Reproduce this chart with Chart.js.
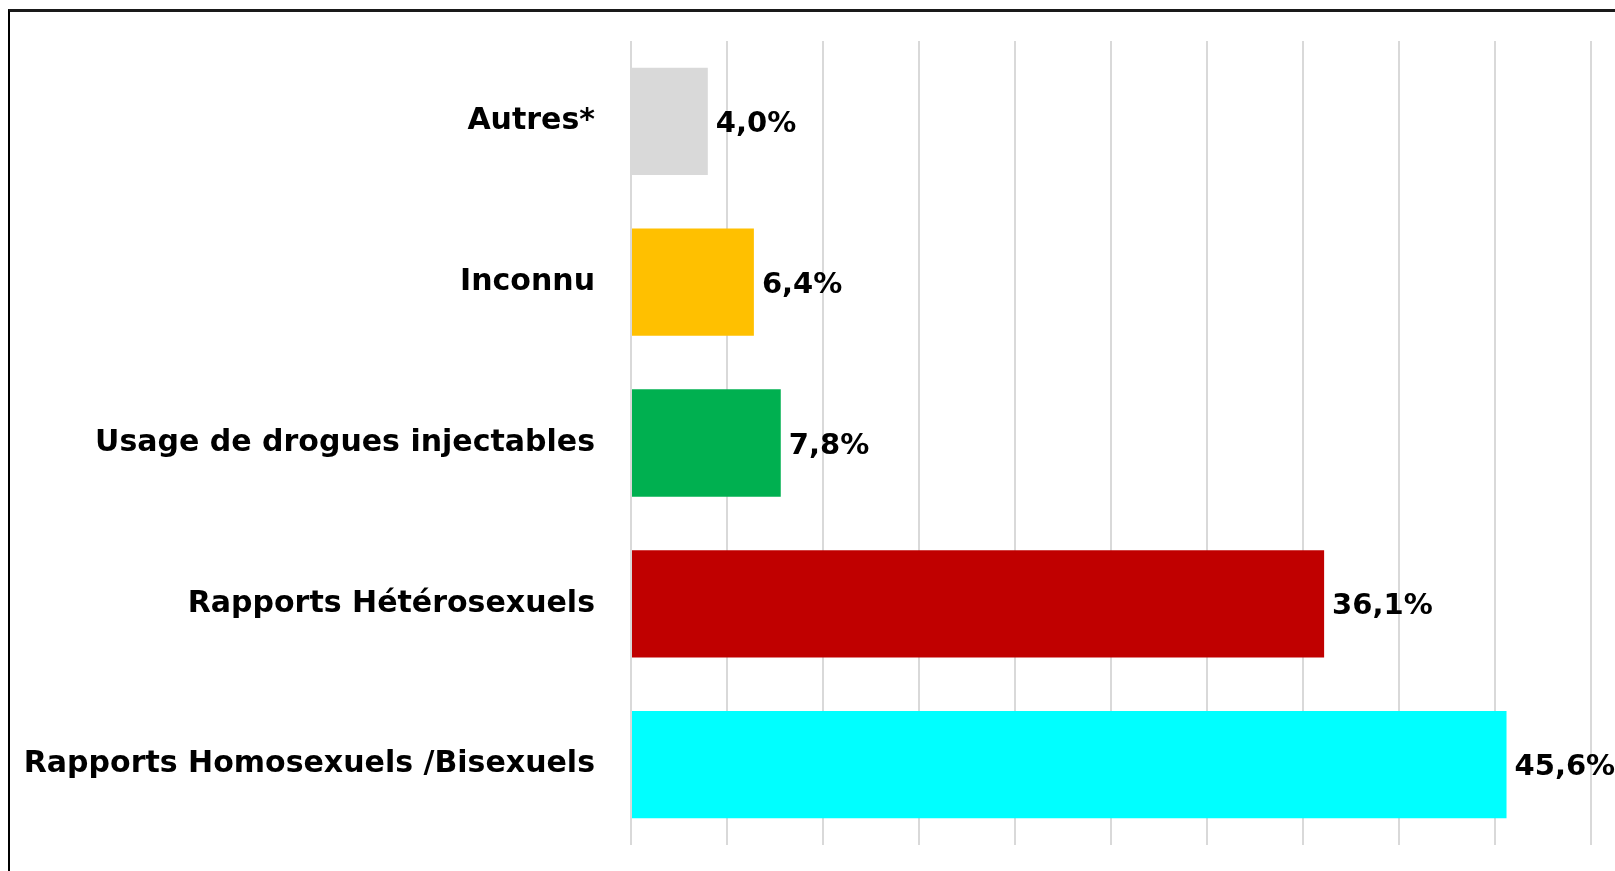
<!DOCTYPE html>
<html>
<head>
<meta charset="utf-8">
<script src="https://cdn.jsdelivr.net/npm/chart.js@4/dist/chart.umd.min.js"></script>
<style>
  html, body { margin: 0; padding: 0; background: #fff; }
  #wrap { position: relative; width: 1615px; height: 871px; overflow: hidden; }
  #frame { position: absolute; left: 8px; top: 9px; width: 1700px; height: 1000px;
           border-left: 2px solid #000; border-top: 3px solid #1a1a1a; }
  canvas { position: absolute; left: 0; top: 0; }
</style>
</head>
<body>
<div id="wrap">
  <div id="frame"></div>
  <canvas id="chart" width="1615" height="871"></canvas>
</div>
<script>
// Données
const categories = ['Autres*', 'Inconnu', 'Usage de drogues injectables', 'Rapports Hétérosexuels', 'Rapports Homosexuels /Bisexuels'];
const values = [4.0, 6.4, 7.8, 36.1, 45.6];
const barColors = ['#D9D9D9', '#FFC000', '#00B050', '#C00000', '#00FFFF'];
const xTicks = [0, 5, 10, 15, 20, 25, 30, 35, 40, 45, 50];

const fontFamily = "'DejaVu Sans', 'Noto Sans', sans-serif";

// étiquettes de valeur à droite des barres
const valueLabels = {
  id: 'valueLabels',
  afterDatasetsDraw(chart) {
    const ctx = chart.ctx;
    const meta = chart.getDatasetMeta(0);
    ctx.save();
    ctx.font = 'bold 29px ' + fontFamily;
    ctx.fillStyle = '#000';
    ctx.textAlign = 'left';
    ctx.textBaseline = 'middle';
    meta.data.forEach((bar, i) => {
      const txt = values[i].toFixed(1).replace('.', ',') + '%';
      ctx.fillText(txt, bar.x + 8, bar.y + 3);
    });
    ctx.restore();
  }
};

const ctx = document.getElementById('chart').getContext('2d');
const chart = new Chart(ctx, {
  type: 'bar',
  data: {
    labels: categories,
    datasets: [{
      data: values,
      backgroundColor: barColors,
      borderWidth: 0,
      categoryPercentage: 1,
      barPercentage: 0.667
    }]
  },
  options: {
    indexAxis: 'y',
    responsive: false,
    animation: false,
    layout: { padding: { top: 41, bottom: 26, right: 24, left: 0 } },
    plugins: {
      legend: { display: false },
      tooltip: { enabled: false }
    },
    scales: {
      x: {
        min: 0,
        max: 50,
        afterBuildTicks(scale) { scale.ticks = xTicks.map(v => ({ value: v })); },
        afterFit(scale) {
          scale.height = 0;
          scale.paddingLeft = 0; scale.paddingRight = 0;
        },
        ticks: { display: false },
        grid: { color: '#D9D9D9', lineWidth: 2, drawTicks: false },
        border: { display: false }
      },
      y: {
        afterFit(scale) {
          scale.width = 631;
          scale.paddingTop = 0; scale.paddingBottom = 0;
        },
        grid: { display: false, drawTicks: false },
        border: { display: false },
        ticks: {
          padding: 36,
          color: '#000',
          font: { family: fontFamily, size: 30, weight: 'bold' }
        }
      }
    }
  },
  plugins: [valueLabels]
});
</script>
</body>
</html>
